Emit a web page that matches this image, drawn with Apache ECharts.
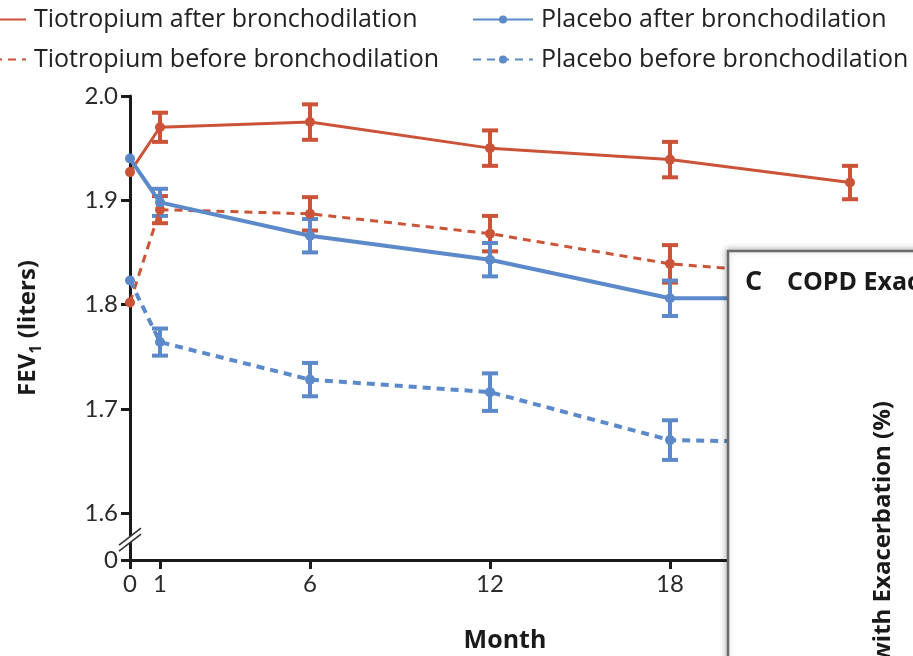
<!DOCTYPE html>
<html><head><meta charset="utf-8">
<script src="https://cdn.jsdelivr.net/npm/echarts@6/dist/echarts.min.js"></script>
<style>html,body{margin:0;padding:0;background:#fff;overflow:hidden}#c{width:913px;height:656px}</style>
</head><body><div id="c"></div>
<script>
const months = [0, 1, 6, 12, 18, 24];
const tioAfter = [1.927, 1.970, 1.975, 1.950, 1.939, 1.917];
const tioAfterErr = [null, 0.014, 0.017, 0.017, 0.017, 0.016];
const tioBefore = [1.802, 1.891, 1.887, 1.868, 1.839, 1.826];
const tioBeforeErr = [null, 0.013, 0.016, 0.017, 0.018, 0.017];
const plaAfter = [1.940, 1.898, 1.866, 1.843, 1.806, 1.806];
const plaAfterErr = [null, 0.013, 0.016, 0.016, 0.017, 0.017];
const plaBefore = [1.823, 1.764, 1.728, 1.716, 1.670, 1.667];
const plaBeforeErr = [null, 0.013, 0.016, 0.018, 0.019, 0.019];
const yTicks = [1.555, 1.6, 1.7, 1.8, 1.9, 2.0];
const xTicks = [0, 1, 6, 12, 18, 24];
const names = ['Tiotropium after bronchodilation', 'Tiotropium before bronchodilation',
               'Placebo after bronchodilation', 'Placebo before bronchodilation'];

const RED = '#CB5337', BLUE = '#5B89C9';
const FONT = 'Lato';
const TFONT = 'Open Sans';

function pairs(vals) { return months.map((m, i) => [m, vals[i]]); }

function lineSeries(name, vals, color, width, dash) {
  return {
    name, type: 'line', data: pairs(vals), z: 4,
    symbol: 'circle', symbolSize: 10, showSymbol: true,
    itemStyle: { color },
    lineStyle: { color, width, type: dash || 'solid' },
    emphasis: { disabled: true }, animation: false
  };
}

function errSeries(vals, errs, color) {
  const data = [];
  months.forEach((m, i) => { if (errs[i] != null) data.push([m, vals[i] - errs[i], vals[i] + errs[i]]); });
  return {
    type: 'custom', silent: true, z: 3, animation: false,
    data, encode: { x: 0, y: [1, 2] },
    renderItem(params, api) {
      const x = api.value(0);
      const lo = api.coord([x, api.value(1)]);
      const hi = api.coord([x, api.value(2)]);
      const w = 8;
      const st = { stroke: color, lineWidth: 4 };
      return { type: 'group', children: [
        { type: 'line', shape: { x1: lo[0], y1: lo[1], x2: hi[0], y2: hi[1] }, style: st },
        { type: 'line', shape: { x1: lo[0] - w, y1: lo[1], x2: lo[0] + w, y2: lo[1] }, style: st },
        { type: 'line', shape: { x1: hi[0] - w, y1: hi[1], x2: hi[0] + w, y2: hi[1] }, style: st }
      ]};
    }
  };
}

const chart = echarts.init(document.getElementById('c'), null, { renderer: 'canvas' });
const legendText = { fontSize: 25, fontFamily: TFONT, color: '#222', padding: [0, 0, 0, 3] };
chart.setOption({
  backgroundColor: '#fff',
  animation: false,
  legend: [
    { orient: 'vertical', left: -35, top: 7, padding: 0, itemWidth: 60, itemHeight: 10, itemGap: 15,
      data: [names[0], names[1]], textStyle: legendText, selectedMode: false },
    { orient: 'vertical', left: 472, top: 7, padding: 0, itemWidth: 60, itemHeight: 10, itemGap: 15,
      data: [names[2], names[3]], textStyle: legendText, selectedMode: false }
  ],
  grid: { left: 130, right: 33, top: 96, bottom: 96, outerBoundsMode: 'none' },
  xAxis: {
    type: 'value', min: 0, max: 25,
    name: 'Month', nameLocation: 'middle', nameGap: 68,
    nameTextStyle: { fontSize: 25, fontWeight: 'bold', fontFamily: TFONT, color: '#1a1a1a' },
    axisLine: { lineStyle: { color: '#1a1a1a', width: 3 } },
    axisTick: { customValues: xTicks, length: 9, lineStyle: { color: '#1a1a1a', width: 3 } },
    axisLabel: { customValues: xTicks, fontSize: 24, fontFamily: FONT, color: '#2a2a2a', margin: 12 },
    splitLine: { show: false }
  },
  yAxis: {
    type: 'value', min: 1.555, max: 2.0,
    name: '{b|FEV}{s|1}{b| (liters)}', nameLocation: 'middle', nameGap: 86, nameRotate: 90,
    nameTextStyle: { rich: {
      b: { fontSize: 24, fontWeight: 'bold', fontFamily: TFONT, color: '#1a1a1a', lineHeight: 32, verticalAlign: 'middle' },
      s: { fontSize: 16, fontWeight: 'bold', fontFamily: TFONT, color: '#1a1a1a', lineHeight: 32, verticalAlign: 'bottom', padding: [15, 0, 0, 0] }
    } },
    axisLine: { show: true, lineStyle: { color: '#1a1a1a', width: 3 } },
    axisTick: { show: true, customValues: yTicks, length: 9, lineStyle: { color: '#1a1a1a', width: 3 } },
    axisLabel: { customValues: yTicks, fontSize: 24, fontFamily: FONT, color: '#2a2a2a', margin: 12,
      formatter: v => (Math.abs(v - 1.555) < 1e-6 ? '0' : v.toFixed(1)) },
    splitLine: { show: false }
  },
  series: [
    errSeries(tioAfter, tioAfterErr, RED),
    errSeries(tioBefore, tioBeforeErr, RED),
    errSeries(plaAfter, plaAfterErr, BLUE),
    errSeries(plaBefore, plaBeforeErr, BLUE),
    lineSeries(names[0], tioAfter, RED, 3, null),
    lineSeries(names[1], tioBefore, RED, 3, [8, 6]),
    lineSeries(names[2], plaAfter, BLUE, 4, null),
    lineSeries(names[3], plaBefore, BLUE, 4, [8, 6])
  ]
});

// axis break mark and overlapping panel C
const b = chart.convertToPixel({ gridIndex: 0 }, [0, 1.576]);
const cx = b[0], cy = b[1];
chart.setOption({
  graphic: [
    { type: 'polygon', z: 50, shape: { points: [[cx - 11, cy + 7], [cx + 11, cy - 10], [cx + 11, cy - 4], [cx - 11, cy + 13]] },
      style: { fill: '#fff' } },
    { type: 'line', z: 51, shape: { x1: cx - 11, y1: cy + 7, x2: cx + 11, y2: cy - 10 }, style: { stroke: '#333', lineWidth: 1.6 } },
    { type: 'line', z: 51, shape: { x1: cx - 11, y1: cy + 13, x2: cx + 11, y2: cy - 4 }, style: { stroke: '#333', lineWidth: 1.6 } },
    { type: 'rect', z: 100, shape: { x: 728, y: 251, width: 300, height: 500 },
      style: { fill: '#fff', stroke: '#6b6b6b', lineWidth: 2.5, shadowBlur: 6, shadowColor: 'rgba(0,0,0,0.25)', shadowOffsetX: -1, shadowOffsetY: -1 } },
    { type: 'text', z: 101, x: 745, y: 282, style: { text: 'C', fontSize: 27, fontWeight: 'bold', fontFamily: TFONT, fill: '#1a1a1a', verticalAlign: 'middle' } },
    { type: 'text', z: 101, x: 787, y: 283, style: { text: 'COPD Exacerbations', fontSize: 25, fontWeight: 'bold', fontFamily: TFONT, fill: '#1a1a1a', verticalAlign: 'middle' } },
    { type: 'text', z: 101, x: 883, y: 401, rotation: Math.PI / 2,
      style: { text: 'Patients with Exacerbation (%)', fontSize: 24, fontWeight: 'bold', fontFamily: TFONT, fill: '#1a1a1a', align: 'right', verticalAlign: 'middle' } }
  ]
});
</script>
</body></html>
